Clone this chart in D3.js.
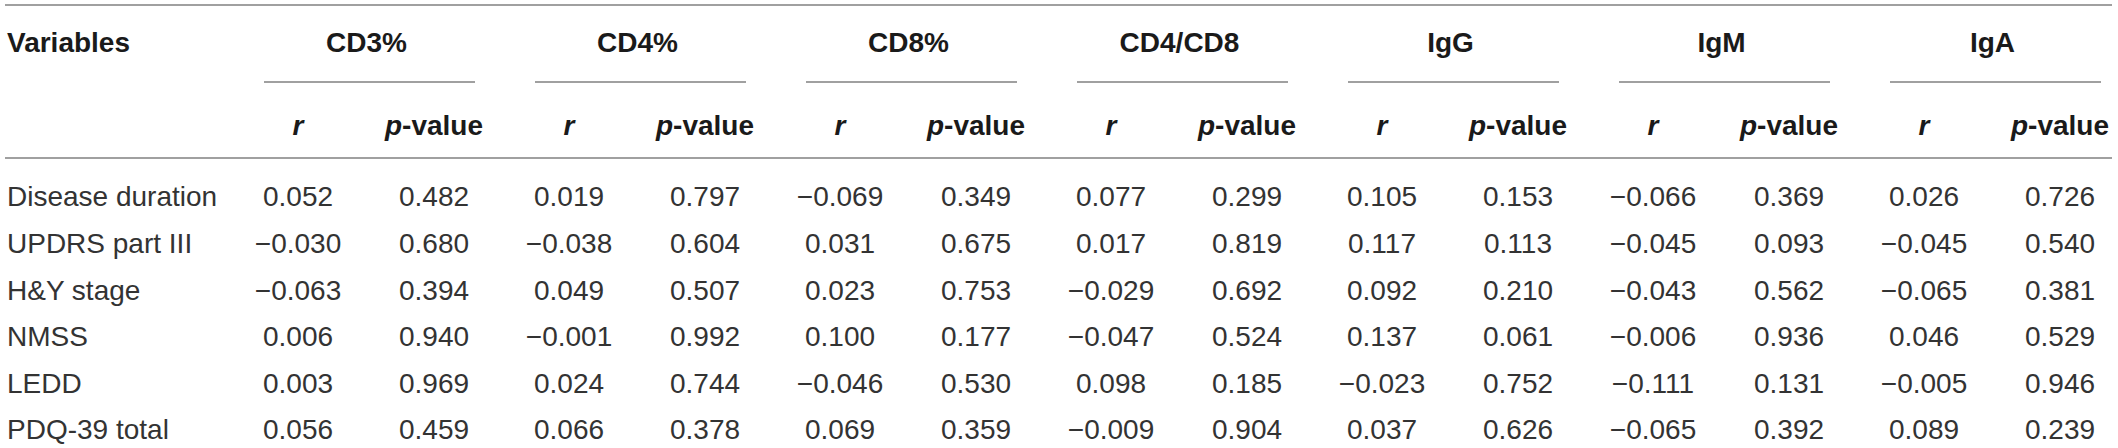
<!DOCTYPE html>
<html>
<head>
<meta charset="utf-8">
<script src="https://cdn.jsdelivr.net/npm/d3@7"></script>
<style>
  html, body { margin: 0; padding: 0; background: #fff; }
  svg { display: block; font-family: "Liberation Sans", Arial, Helvetica, sans-serif; }
</style>
</head>
<body>
<svg id="table" width="2118" height="448"></svg>
<script>
// rows and column groups
var variables = ["Disease duration", "UPDRS part III", "H&Y stage", "NMSS", "LEDD", "PDQ-39 total"];
var markers = ["CD3%", "CD4%", "CD8%", "CD4/CD8", "IgG", "IgM", "IgA"];

// correlation coefficients (r) and p-values, one array per marker
var cd3R = [0.052, -0.030, -0.063, 0.006, 0.003, 0.056];
var cd3P = [0.482, 0.680, 0.394, 0.940, 0.969, 0.459];
var cd4R = [0.019, -0.038, 0.049, -0.001, 0.024, 0.066];
var cd4P = [0.797, 0.604, 0.507, 0.992, 0.744, 0.378];
var cd8R = [-0.069, 0.031, 0.023, 0.100, -0.046, 0.069];
var cd8P = [0.349, 0.675, 0.753, 0.177, 0.530, 0.359];
var ratioR = [0.077, 0.017, -0.029, -0.047, 0.098, -0.009];
var ratioP = [0.299, 0.819, 0.692, 0.524, 0.185, 0.904];
var iggR = [0.105, 0.117, 0.092, 0.137, -0.023, 0.037];
var iggP = [0.153, 0.113, 0.210, 0.061, 0.752, 0.626];
var igmR = [-0.066, -0.045, -0.043, -0.006, -0.111, -0.065];
var igmP = [0.369, 0.093, 0.562, 0.936, 0.131, 0.392];
var igaR = [0.026, -0.045, -0.065, 0.046, -0.005, 0.089];
var igaP = [0.726, 0.540, 0.381, 0.529, 0.946, 0.239];

var rValues = [cd3R, cd4R, cd8R, ratioR, iggR, igmR, igaR];
var pValues = [cd3P, cd4P, cd8P, ratioP, iggP, igmP, igaP];
var subHeads = ["r", "p"];

var svg = d3.select("#table");
var lineColor = "#808080";
var headColor = "#1a1a1a";
var cellColor = "#333";
var fmt = d3.format(".3f");

// column groups: one band per marker
var x = d3.scaleBand().domain(markers).range([249, 249 + 271 * markers.length]);
// inside each group: r and p-value columns
var sub = d3.scalePoint().domain(subHeads).range([49, 185]);
// data rows
var y = d3.scaleBand().domain(variables).range([173, 173 + 46.6 * variables.length]);

var left = 5, right = 2112;

// top rule and rule under the header
svg.selectAll("line.rule").data([5, 158]).enter().append("line")
  .attr("class", "rule")
  .attr("x1", left).attr("x2", right)
  .attr("y1", d => d).attr("y2", d => d)
  .attr("stroke", lineColor).attr("stroke-width", 1.5);

// header
svg.append("text")
  .attr("x", 7).attr("y", 52)
  .attr("font-size", 28).attr("font-weight", "bold")
  .attr("fill", headColor)
  .text("Variables");

var group = svg.selectAll("g.marker").data(markers).enter().append("g")
  .attr("class", "marker")
  .attr("transform", d => "translate(" + x(d) + ",0)");

group.append("text")
  .attr("x", x.bandwidth() / 2 - 18).attr("y", 52)
  .attr("text-anchor", "middle")
  .attr("font-size", 28).attr("font-weight", "bold")
  .attr("fill", headColor)
  .text(d => d);

group.append("line")
  .attr("x1", 15).attr("x2", 226)
  .attr("y1", 82).attr("y2", 82)
  .attr("stroke", lineColor).attr("stroke-width", 1.5);

group.append("text")
  .attr("x", sub("r")).attr("y", 135)
  .attr("text-anchor", "middle")
  .attr("font-size", 28).attr("font-weight", "bold").attr("font-style", "italic")
  .attr("fill", headColor)
  .text("r");

var pHead = group.append("text")
  .attr("x", sub("p")).attr("y", 135)
  .attr("text-anchor", "middle")
  .attr("font-size", 28).attr("font-weight", "bold")
  .attr("fill", headColor);
pHead.append("tspan").attr("font-style", "italic").text("p");
pHead.append("tspan").text("-value");

// row labels
svg.selectAll("text.rowlabel").data(variables).enter().append("text")
  .attr("class", "rowlabel")
  .attr("x", 7)
  .attr("y", d => y(d) + y.bandwidth() / 2 + 10)
  .attr("font-size", 28)
  .attr("fill", cellColor)
  .text(d => d);

// cells
group.each(function(m, gi) {
  var g = d3.select(this);
  var cells = [];
  variables.forEach(function(v, i) {
    cells.push({v: v, key: "r", val: rValues[gi][i]});
    cells.push({v: v, key: "p", val: pValues[gi][i]});
  });
  g.selectAll("text.cell").data(cells).enter().append("text")
    .attr("class", "cell")
    .attr("x", d => sub(d.key))
    .attr("y", d => y(d.v) + y.bandwidth() / 2 + 10)
    .attr("text-anchor", "middle")
    .attr("font-size", 28)
    .attr("fill", cellColor)
    .text(d => fmt(d.val));
});
</script>
</body>
</html>
